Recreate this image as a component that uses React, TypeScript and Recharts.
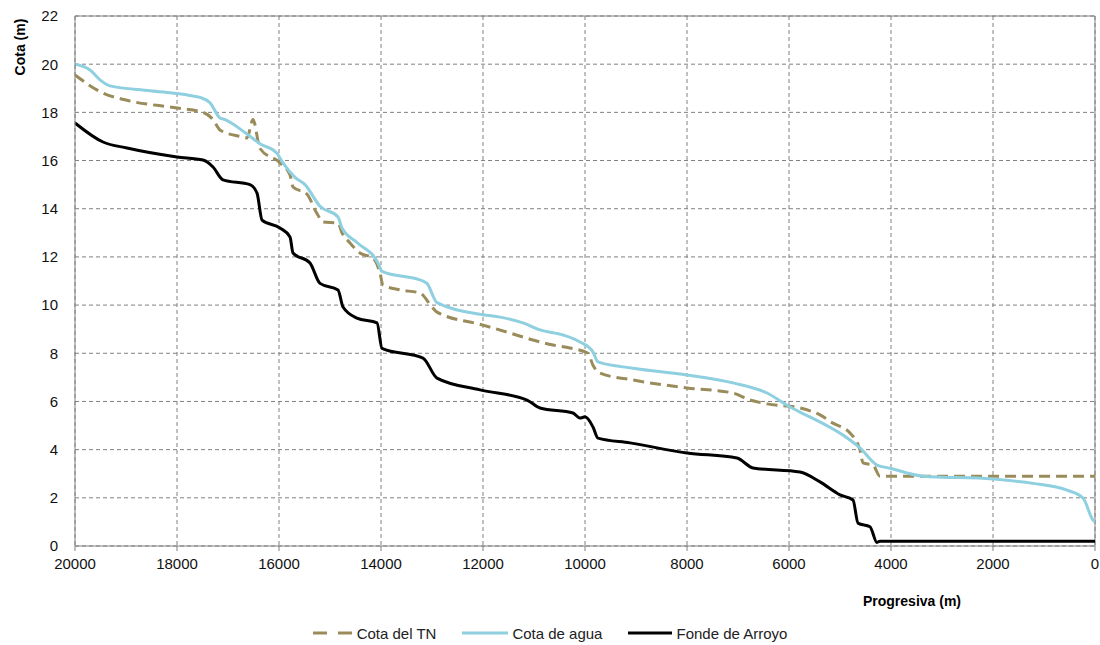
import React from 'react';
import { LineChart, Line, XAxis, YAxis, CartesianGrid, Legend, ReferenceLine } from 'recharts';

// Progresiva ticks (m) and cota ticks (m)
const xTicks = [0, 2000, 4000, 6000, 8000, 10000, 12000, 14000, 16000, 18000, 20000];
const yTicks = [0, 2, 4, 6, 8, 10, 12, 14, 16, 18, 20, 22];

// Cota del TN
const tnDist = [20000, 19451, 18980, 18000, 17490, 17294, 17157, 16765, 16627, 16510, 16373, 15980, 15784, 15725, 15451, 15255, 15137, 14843, 14765, 14608, 14412, 14157, 14020, 13961, 13627, 13235, 13000, 12902, 12000, 11471, 11020, 10627, 10294, 9941, 9843, 9706, 9059, 8000, 7098, 6765, 6431, 5784, 5392, 5137, 4804, 4608, 4549, 4353, 4216, 3000, 2000, 1000, 0];
const tnCota = [19.55, 18.8, 18.5, 18.18, 18.0, 17.7, 17.27, 17.0, 16.94, 17.7, 16.5, 15.9, 15.4, 14.9, 14.6, 13.8, 13.45, 13.4, 13.0, 12.58, 12.16, 11.95, 11.33, 10.83, 10.63, 10.5, 9.92, 9.71, 9.17, 8.84, 8.55, 8.34, 8.22, 8.0, 7.5, 7.18, 6.89, 6.56, 6.35, 6.06, 5.9, 5.73, 5.44, 5.1, 4.69, 3.98, 3.45, 3.36, 2.9, 2.9, 2.9, 2.9, 2.9];

// Cota de agua
const aguaDist = [20000, 19706, 19510, 19314, 18529, 17745, 17549, 17353, 17157, 17059, 16627, 16373, 16040, 15922, 15686, 15490, 15196, 14843, 14765, 14471, 14059, 13980, 13176, 13098, 12902, 12000, 11667, 11216, 10882, 10431, 10098, 9843, 9745, 9059, 8000, 7098, 6431, 5980, 5784, 4804, 4608, 4275, 4020, 3373, 2000, 1216, 549, 235, 39, 0];
const aguaCota = [20.0, 19.76, 19.35, 19.1, 18.9, 18.7, 18.62, 18.4, 17.77, 17.7, 17.1, 16.7, 16.3, 15.9, 15.3, 15.0, 14.1, 13.66, 13.2, 12.6, 11.75, 11.4, 11.0, 10.9, 10.1, 9.6, 9.5, 9.26, 8.97, 8.76, 8.47, 8.05, 7.64, 7.38, 7.1, 6.77, 6.35, 5.77, 5.56, 4.4, 4.07, 3.36, 3.23, 2.9, 2.78, 2.6, 2.32, 1.99, 1.08, 1.0];

// Fonde de Arroyo
const fondoDist = [20000, 19451, 18980, 18000, 17490, 17294, 17098, 16569, 16431, 16333, 15980, 15784, 15725, 15392, 15196, 14843, 14745, 14471, 14078, 13980, 13176, 12902, 12059, 11137, 10882, 10235, 10098, 10000, 9843, 9745, 9118, 8000, 7020, 6706, 5784, 5392, 5000, 4745, 4647, 4412, 4275, 4216, 2000, 0];
const fondoCota = [17.56, 16.77, 16.52, 16.15, 16.02, 15.73, 15.2, 15.0, 14.65, 13.53, 13.2, 12.83, 12.16, 11.75, 10.9, 10.63, 9.92, 9.46, 9.26, 8.2, 7.8, 6.97, 6.48, 6.06, 5.73, 5.52, 5.31, 5.36, 4.94, 4.48, 4.28, 3.86, 3.65, 3.24, 3.07, 2.66, 2.12, 1.91, 0.95, 0.8, 0.15, 0.2, 0.2, 0.2];

const toPoints = (dist: number[], cota: number[]) => dist.map((x, i) => ({ x, y: cota[i] }));

const TN_COLOR = '#9a8c5a';
const AGUA_COLOR = '#8ecfe0';
const FONDO_COLOR = '#000000';
const AXIS_COLOR = '#808080';
const FONT = '"Liberation Sans", Arial, sans-serif';

const legendItems = [
  { name: 'Cota del TN', color: TN_COLOR, dash: '14 11', w: 40 },
  { name: 'Cota de agua', color: AGUA_COLOR, dash: undefined, w: 46 },
  { name: 'Fonde de Arroyo', color: FONDO_COLOR, dash: undefined, w: 44 },
];

const renderLegend = () => (
  <div style={{ display: 'flex', justifyContent: 'center', alignItems: 'center', height: 20, fontSize: 15, color: '#222', fontFamily: FONT }}>
    {legendItems.map((it, i) => (
      <div key={it.name} style={{ display: 'flex', alignItems: 'center', marginLeft: i === 0 ? 0 : 26 }}>
        <svg width={it.w} height={10} style={{ marginRight: 4 }}>
          <line x1={0} y1={5} x2={it.w} y2={5} stroke={it.color} strokeWidth={3} strokeDasharray={it.dash} />
        </svg>
        <span>{it.name}</span>
      </div>
    ))}
  </div>
);

const YLabel = (props: any) => {
  const vb = props.viewBox || { x: 0, y: 16 };
  const x = 20;
  const y = vb.y + 31;
  return (
    <text x={x} y={y} transform={`rotate(-90 ${x} ${y})`} textAnchor="middle" dominantBaseline="central"
      fontSize={14} fontWeight="bold" fill="#000" fontFamily={FONT}>
      Cota (m)
    </text>
  );
};

export default function App() {
  return (
    <div style={{ position: 'fixed', left: 0, top: 0, width: 1100, height: 645, background: '#fff', fontFamily: FONT }}>
      <LineChart width={1100} height={645} margin={{ top: 16, right: 5, left: 0, bottom: 19 }}>
        <CartesianGrid stroke={AXIS_COLOR} strokeDasharray="4 3" />
        <XAxis
          type="number"
          dataKey="x"
          domain={[0, 20000]}
          ticks={xTicks}
          reversed
          allowDataOverflow
          height={60}
          stroke={AXIS_COLOR}
          tickSize={5}
          tickMargin={7}
          tick={{ fill: '#111', fontSize: 15 }}
          label={{ value: 'Progresiva (m)', position: 'insideBottom', dx: 327, offset: 0, fontSize: 14, fontWeight: 'bold', fill: '#000' }}
        />
        <YAxis
          type="number"
          dataKey="y"
          domain={[0, 22]}
          ticks={yTicks}
          width={75}
          stroke={AXIS_COLOR}
          tickLine={false}
          tickSize={6}
          tickMargin={11}
          tick={{ fill: '#111', fontSize: 15 }}
          label={<YLabel />}
        />
        <ReferenceLine y={22} stroke={AXIS_COLOR} />
        <ReferenceLine x={0} stroke={AXIS_COLOR} />
        <Legend content={renderLegend} wrapperStyle={{ top: 623, left: 0, width: 1100 }} />
        <Line data={toPoints(tnDist, tnCota)} dataKey="y" name="Cota del TN" type="monotone" stroke={TN_COLOR}
          strokeWidth={3} strokeDasharray="11 6" dot={false} isAnimationActive={false} />
        <Line data={toPoints(aguaDist, aguaCota)} dataKey="y" name="Cota de agua" type="monotone" stroke={AGUA_COLOR}
          strokeWidth={3} dot={false} isAnimationActive={false} />
        <Line data={toPoints(fondoDist, fondoCota)} dataKey="y" name="Fonde de Arroyo" type="monotone" stroke={FONDO_COLOR}
          strokeWidth={3} dot={false} isAnimationActive={false} />
      </LineChart>
    </div>
  );
}
